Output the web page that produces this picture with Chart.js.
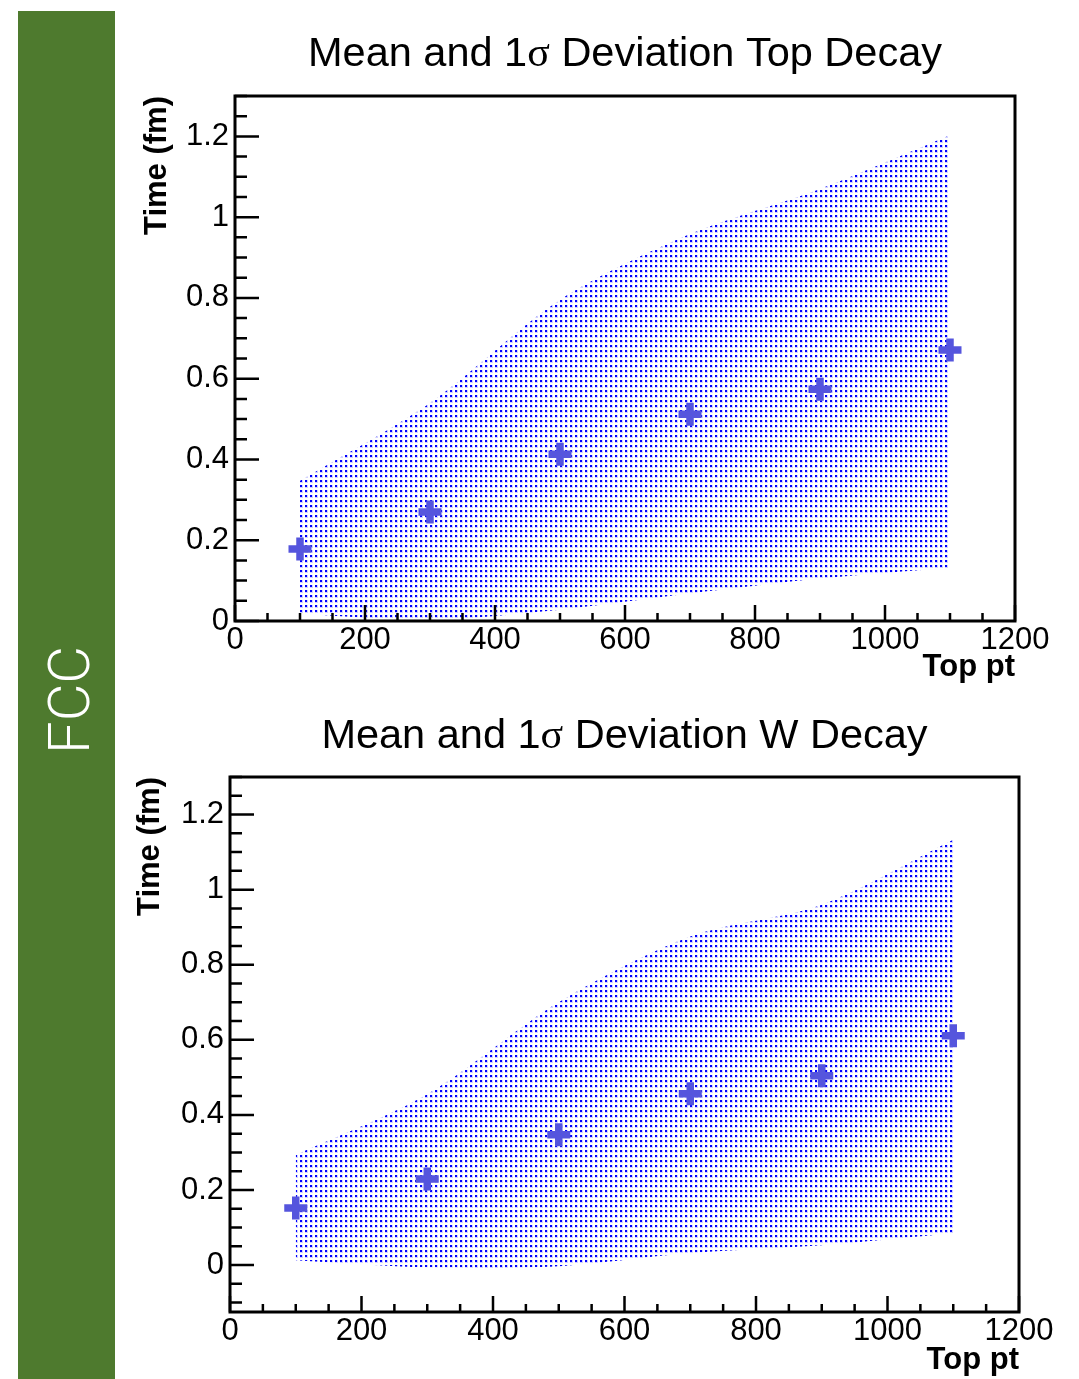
<!DOCTYPE html>
<html>
<head>
<meta charset="utf-8">
<script src="https://cdn.jsdelivr.net/npm/chart.js@4.4.1/dist/chart.umd.min.js"></script>
<style>
  body { margin: 0; background: #fff; width: 1079px; height: 1379px; position: relative; overflow: hidden; }
  #bar { position: absolute; left: 18px; top: 11px; width: 97px; height: 1368px; background: #4e7a2e; }
  #fcc { position: absolute; left: 69px; top: 700px; transform: translate(-50%, -50%) rotate(-90deg);
         color: #fff; font: 300 58px Roboto, 'Liberation Sans', sans-serif; white-space: nowrap; }
  canvas { position: absolute; left: 120px; }
</style>
</head>
<body>
<div id="bar"></div>
<div id="fcc">FCC</div>
<canvas id="topChart" width="959" height="690" style="top:0"></canvas>
<canvas id="wChart" width="959" height="689" style="top:690px"></canvas>
<script>
// pt bins (x) shared by both plots
const ptBins = [100, 300, 500, 700, 900, 1100];

// top decay: mean and 1 sigma band
const topMean  = [0.178, 0.270, 0.413, 0.512, 0.574, 0.671];
const topUpper = [0.347, 0.540, 0.795, 0.958, 1.070, 1.203];
const topLower = [0.018, 0.003, 0.028, 0.068, 0.105, 0.132];

// W decay: mean and 1 sigma band
const wMean  = [0.152, 0.229, 0.347, 0.456, 0.504, 0.611];
const wUpper = [0.293, 0.455, 0.700, 0.875, 0.960, 1.133];
const wLower = [0.013, -0.006, -0.003, 0.032, 0.053, 0.085];

// tick labels
const xTickValues = [0, 200, 400, 600, 800, 1000, 1200];
const yTickValues = [0, 0.2, 0.4, 0.6, 0.8, 1, 1.2];

const topTitle = ['Mean and 1', 'σ', ' Deviation Top Decay'];
const wTitle = ['Mean and 1', 'σ', ' Deviation W Decay'];

Chart.defaults.font.family = "'Liberation Sans', Arial, sans-serif";
Chart.defaults.color = '#000';

// dotted fill like ROOT's fill style
function dotPattern() {
    const c = document.createElement('canvas');
    c.width = 5; c.height = 5;
    const g = c.getContext('2d');
    g.fillStyle = 'rgba(0,0,255,0.18)';
    g.fillRect(0, 0, 3, 3);
    g.fillStyle = '#0000ff';
    g.fillRect(0, 0, 2, 2);
    return g.createPattern(c, 'repeat');
}

const toPoints = (xs, ys) => xs.map((x, i) => ({ x: x, y: ys[i] }));

// frame + inward ticks, ROOT style
const frameTicks = {
    id: 'frameTicks',
    afterDraw(chart) {
        const { ctx, chartArea: a } = chart;
        const x = chart.scales.x, y = chart.scales.y;
        ctx.save();
        ctx.strokeStyle = '#000';
        ctx.lineWidth = 2.5;
        ctx.beginPath();
        for (let v = 0; v <= x.max; v += 50) {
            const px = x.getPixelForValue(v);
            const len = v % 200 === 0 ? 16 : 8;
            ctx.moveTo(px, a.bottom);
            ctx.lineTo(px, a.bottom - len);
        }
        const k0 = Math.ceil(y.min / 0.05 - 1e-6), k1 = Math.floor(y.max / 0.05 + 1e-6);
        for (let k = k0; k <= k1; k++) {
            const py = y.getPixelForValue(k * 0.05);
            const len = k % 4 === 0 ? 24 : 12;
            ctx.moveTo(a.left, py);
            ctx.lineTo(a.left + len, py);
        }
        ctx.stroke();
        ctx.lineWidth = 3;
        ctx.strokeRect(a.left, a.top, a.right - a.left, a.bottom - a.top);
        ctx.restore();
    }
};

// title with a serif sigma
const splitTitle = {
    id: 'splitTitle',
    afterDraw(chart, args, opts) {
        const ctx = chart.ctx, a = chart.chartArea;
        const fonts = ['41.5px "Liberation Sans"', '42px "Liberation Serif"', '41.5px "Liberation Sans"'];
        ctx.save();
        let total = 0;
        const widths = opts.parts.map((p, i) => {
            ctx.font = fonts[i];
            const w = ctx.measureText(p).width;
            total += w;
            return w;
        });
        let cx = (a.left + a.right) / 2 - total / 2;
        ctx.fillStyle = '#000';
        ctx.textBaseline = 'middle';
        ctx.textAlign = 'left';
        opts.parts.forEach((p, i) => {
            ctx.font = fonts[i];
            ctx.fillText(p, cx, opts.y);
            cx += widths[i];
        });
        ctx.restore();
    }
};

function makeChart(id, mean, upper, lower, title, cfg) {
    const fill = dotPattern();
    return new Chart(document.getElementById(id), {
        type: 'scatter',
        data: {
            datasets: [
                {
                    data: toPoints(ptBins, mean),
                    pointStyle: 'cross',
                    pointRadius: 11.5,
                    pointBorderWidth: 7.5,
                    borderColor: '#5555dd',
                    backgroundColor: '#5555dd',
                    showLine: false
                },
                {
                    data: toPoints(ptBins, upper),
                    showLine: true,
                    borderWidth: 0,
                    pointRadius: 0,
                    tension: 0.3,
                    backgroundColor: fill,
                    fill: '+1'
                },
                {
                    data: toPoints(ptBins, lower),
                    showLine: true,
                    borderWidth: 0,
                    pointRadius: 0,
                    tension: 0.3,
                    fill: false
                }
            ]
        },
        options: {
            responsive: false,
            animation: false,
            devicePixelRatio: 1,
            layout: { padding: { top: cfg.top, right: cfg.right, left: 0, bottom: 0 } },
            plugins: {
                legend: { display: false },
                tooltip: { enabled: false },
                splitTitle: { parts: title, y: cfg.titleY }
            },
            scales: {
                x: {
                    type: 'linear',
                    min: 0,
                    max: 1200,
                    grid: { display: false, drawTicks: false },
                    border: { display: false },
                    afterBuildTicks: s => { s.ticks = xTickValues.map(v => ({ value: v })); },
                    afterFit: s => { s.height = cfg.xHeight; },
                    ticks: { font: { size: 31 }, padding: 1, maxRotation: 0, autoSkip: false,
                             callback: v => String(v) },
                    title: { display: true, text: 'Top pt', align: 'end',
                             font: { size: 31, weight: 'bold' }, padding: { top: 0, bottom: cfg.xTitlePad } }
                },
                y: {
                    type: 'linear',
                    min: cfg.yMin,
                    max: 1.3,
                    grid: { display: false, drawTicks: false },
                    border: { display: false },
                    afterBuildTicks: s => { s.ticks = yTickValues.map(v => ({ value: v })); },
                    afterFit: s => { s.width = cfg.yWidth; },
                    ticks: { font: { size: 31 }, padding: 6, callback: v => String(v) },
                    title: { display: true, text: 'Time (fm)', align: 'end',
                             font: { size: 31, weight: 'bold' }, padding: { top: cfg.yTitlePad, bottom: 0 } }
                }
            }
        },
        plugins: [frameTicks, splitTitle]
    });
}

makeChart('topChart', topMean, topUpper, topLower, topTitle,
    { top: 96, right: 64, xHeight: 69, yWidth: 115, yMin: 0, titleY: 55, xTitlePad: 4, yTitlePad: 19 });
makeChart('wChart', wMean, wUpper, wLower, wTitle,
    { top: 87, right: 60, xHeight: 67, yWidth: 110, yMin: -0.125, titleY: 47, xTitlePad: 0, yTitlePad: 12 });
</script>
</body>
</html>
